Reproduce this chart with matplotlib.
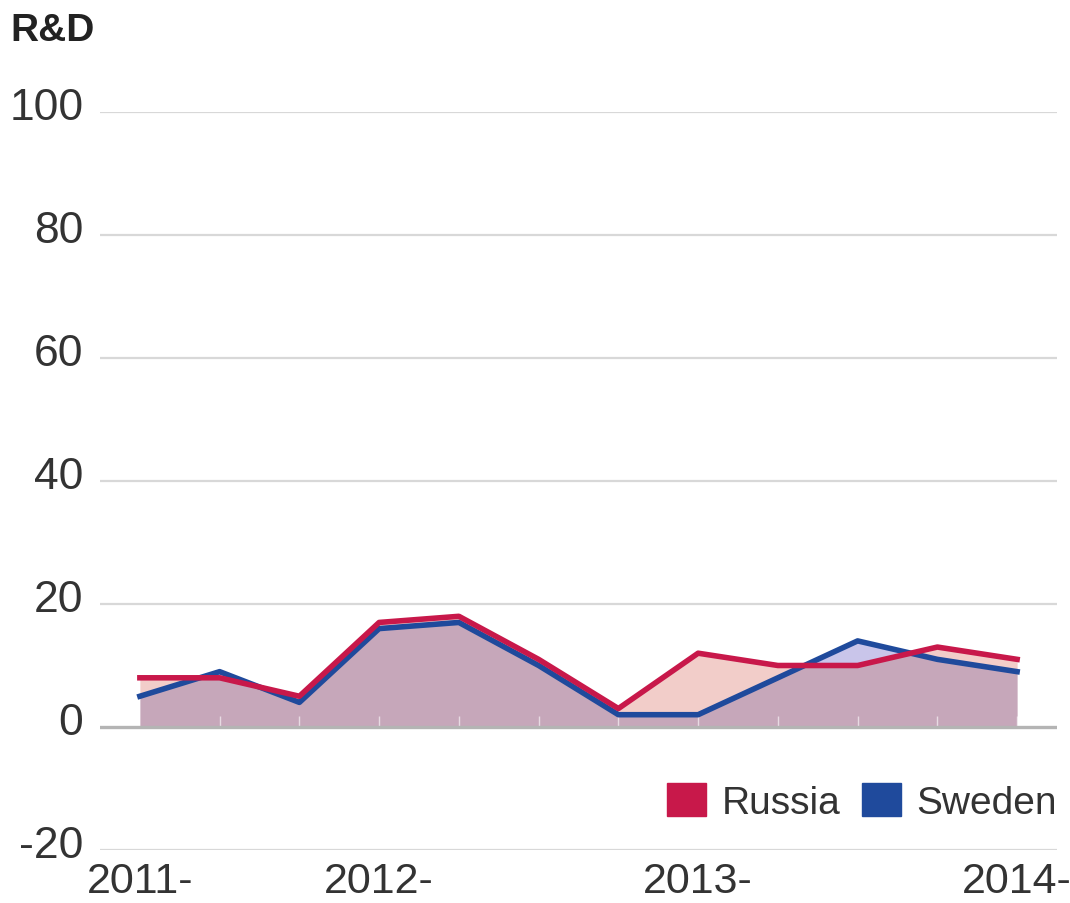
import numpy as np
import matplotlib
matplotlib.use('Agg')
import matplotlib.pyplot as plt
from matplotlib.patches import Patch
from matplotlib.transforms import ScaledTranslation

# данные (квартальные значения)
russia = [8, 8, 5, 17, 18, 11, 3, 12, 10, 10, 13, 11]
sweden = [5, 9, 4, 16, 17, 10, 2, 2, 8, 14, 11, 9]
tick_idx = [0, 3, 7, 11]
tick_labels = ['2011-', '2012-', '2013-', '2014-']
y_ticks = [-20, 0, 20, 40, 60, 80, 100]

plt.rcParams['font.family'] = ['Liberation Sans', 'DejaVu Sans']

c_rus = '#c8184a'
c_swe = '#1f4a9c'

fig = plt.figure(figsize=(10.7, 9.04), dpi=100)
ax = fig.add_axes([100 / 1070, 1 - 851 / 904, 957 / 1070, (851 - 113) / 904])

x = np.arange(len(russia))
r = np.array(russia, dtype=float)
s = np.array(sweden, dtype=float)

# плотная сетка по x, чтобы заливки корректно пересекались
xs = np.linspace(x[0], x[-1], 2201)
rs = np.interp(xs, x, r)
ss = np.interp(xs, x, s)
low = np.minimum(rs, ss)

# сетка
for v in y_ticks:
    if v == 0:
        continue
    ax.axhline(v, color='#d8d8d8', lw=1.6, zorder=0)

# заливки
ax.fill_between(xs, 0, low, color='#c6a7ba', lw=0, zorder=1)
ax.fill_between(xs, low, rs, color='#f2cdc9', lw=0, zorder=1)
ax.fill_between(xs, low, ss, color='#c9c5ea', lw=0, zorder=1)
ax.vlines(x[1:], 0, 1.8, color='white', lw=1, alpha=0.6, zorder=2)

ax.axhline(0, color='#b4b4b4', lw=2.4, zorder=2)

# линии
ax.plot(x, s, color=c_swe, lw=4, zorder=3)
ax.plot(x, r, color=c_rus, lw=4, zorder=4)

ax.set_xlim(-0.5, 11.5)
ax.set_ylim(-20, 100)
ax.set_yticks(y_ticks)
ax.set_yticklabels([str(v) for v in y_ticks])
ax.set_xticks(tick_idx)
ax.set_xticklabels(tick_labels)
for sp in ax.spines.values():
    sp.set_visible(False)
ax.tick_params(axis='y', length=0, pad=12, labelsize=32, labelcolor='#333333')
ax.tick_params(axis='x', length=0, pad=8, labelsize=31, labelcolor='#333333')
for lab in ax.get_yticklabels():
    lab.set_transform(lab.get_transform() + ScaledTranslation(0, 9 / 100, fig.dpi_scale_trans))

# легенда
handles = [Patch(color=c_rus, label='Russia'), Patch(color=c_swe, label='Sweden')]
fig.legend(handles=handles, loc='center right', bbox_to_anchor=(1057 / 1070, 1 - 803 / 904),
           ncol=2, frameon=False, fontsize=28, handlelength=1.0, handleheight=0.9,
           handletextpad=0.4, columnspacing=0.55, borderpad=0, borderaxespad=0,
           labelcolor='#333333')

fig.text(10 / 1070, 1 - 31 / 904, 'R&D', fontsize=28, fontweight='bold',
         va='center', ha='left', color='#222222')

fig.savefig('out.png', dpi=100)
